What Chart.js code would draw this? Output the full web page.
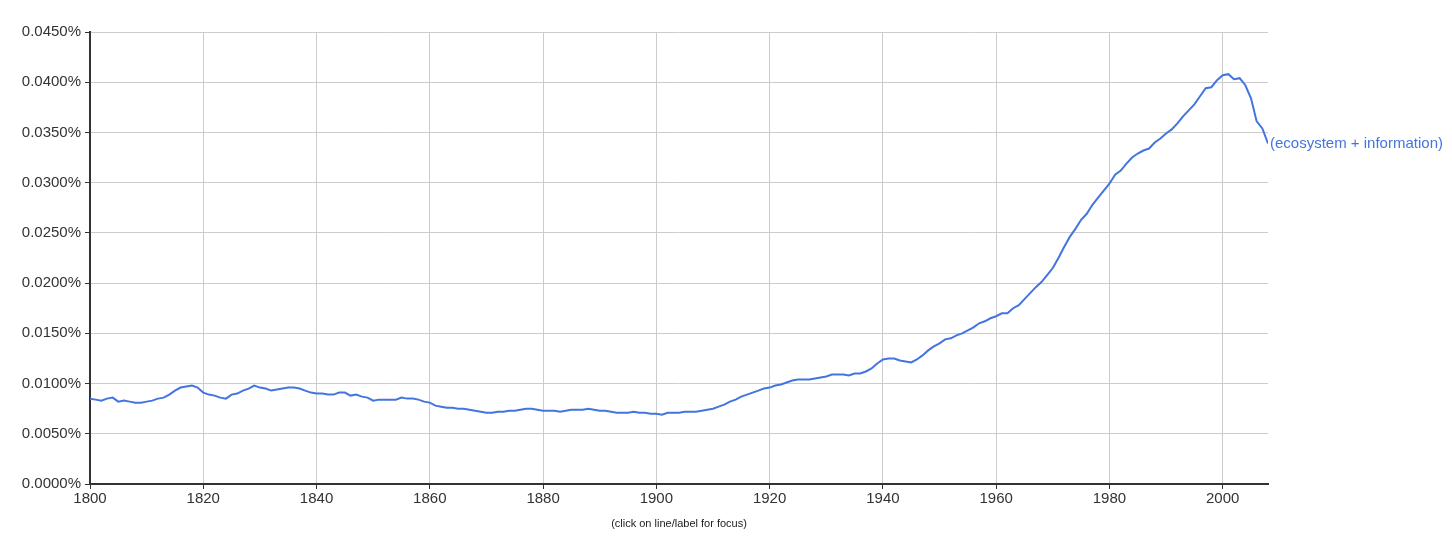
<!DOCTYPE html>
<html>
<head>
<meta charset="utf-8">
<title>Ngram: (ecosystem + information)</title>
<script src="https://cdn.jsdelivr.net/npm/chart.js@4/dist/chart.umd.min.js"></script>
<style>
  html, body { margin: 0; padding: 0; background: #fff; }
  #wrap { position: relative; width: 1452px; height: 543px; }
</style>
</head>
<body>
<div id="wrap"><canvas id="ngramChart"></canvas></div>
<script>
const seriesLabel = '(ecosystem + information)';
const caption = '(click on line/label for focus)';

const xTicks = [1800, 1820, 1840, 1860, 1880, 1900, 1920, 1940, 1960, 1980, 2000];
const yTicks = [0, 0.005, 0.01, 0.015, 0.02, 0.025, 0.03, 0.035, 0.04, 0.045];

const years = [];
for (let y = 1800; y <= 2008; y++) years.push(y);

// percent values, one per year 1800..2008
const values = [
  0.0085, 0.0084, 0.0083, 0.0085, 0.0086, 0.0082, 0.0083, 0.0082, 0.0081, 0.0081,
  0.0082, 0.0083, 0.0085, 0.0086, 0.0089, 0.0093, 0.0096, 0.0097, 0.0098, 0.0096,
  0.0091, 0.0089, 0.0088, 0.0086, 0.0085, 0.0089, 0.0090, 0.0093, 0.0095, 0.0098,
  0.0096, 0.0095, 0.0093, 0.0094, 0.0095, 0.0096, 0.0096, 0.0095, 0.0093, 0.0091,
  0.0090, 0.0090, 0.0089, 0.0089, 0.0091, 0.0091, 0.0088, 0.0089, 0.0087, 0.0086,
  0.0083, 0.0084, 0.0084, 0.0084, 0.0084, 0.0086, 0.0085, 0.0085, 0.0084, 0.0082,
  0.0081, 0.0078, 0.0077, 0.0076, 0.0076, 0.0075, 0.0075, 0.0074, 0.0073, 0.0072,
  0.0071, 0.0071, 0.0072, 0.0072, 0.0073, 0.0073, 0.0074, 0.0075, 0.0075, 0.0074,
  0.0073, 0.0073, 0.0073, 0.0072, 0.0073, 0.0074, 0.0074, 0.0074, 0.0075, 0.0074,
  0.0073, 0.0073, 0.0072, 0.0071, 0.0071, 0.0071, 0.0072, 0.0071, 0.0071, 0.0070,
  0.0070, 0.0069, 0.0071, 0.0071, 0.0071, 0.0072, 0.0072, 0.0072, 0.0073, 0.0074,
  0.0075, 0.0077, 0.0079, 0.0082, 0.0084, 0.0087, 0.0089, 0.0091, 0.0093, 0.0095,
  0.0096, 0.0098, 0.0099, 0.0101, 0.0103, 0.0104, 0.0104, 0.0104, 0.0105, 0.0106,
  0.0107, 0.0109, 0.0109, 0.0109, 0.0108, 0.0110, 0.0110, 0.0112, 0.0115, 0.0120,
  0.0124, 0.0125, 0.0125, 0.0123, 0.0122, 0.0121, 0.0124, 0.0128, 0.0133, 0.0137,
  0.0140, 0.0144, 0.0145, 0.0148, 0.0150, 0.0153, 0.0156, 0.0160, 0.0162, 0.0165,
  0.0167, 0.0170, 0.0170, 0.0175, 0.0178, 0.0184, 0.0190, 0.0196, 0.0201, 0.0208,
  0.0215, 0.0225, 0.0236, 0.0246, 0.0254, 0.0263, 0.0269, 0.0278, 0.0285, 0.0292,
  0.0299, 0.0308, 0.0312, 0.0319, 0.0325, 0.0329, 0.0332, 0.0334, 0.0340, 0.0344,
  0.0349, 0.0353, 0.0359, 0.0366, 0.0372, 0.0378, 0.0386, 0.0394, 0.0395, 0.0402,
  0.0407, 0.0408, 0.0403, 0.0404, 0.0397, 0.0384, 0.0361, 0.0354, 0.0339
];

const lineColor = '#4374e0';
const fontFamily = 'Arial, "Liberation Sans", Helvetica, sans-serif';

// series label at the end of the line + caption under the x axis
const labelPlugin = {
  id: 'ngramLabels',
  afterDatasetsDraw(chart) {
    const ctx = chart.ctx;
    const meta = chart.getDatasetMeta(0);
    const last = meta.data[meta.data.length - 1];
    ctx.save();
    ctx.font = '15px ' + fontFamily;
    ctx.fillStyle = lineColor;
    ctx.textAlign = 'left';
    ctx.textBaseline = 'middle';
    ctx.fillText(seriesLabel, last.x + 2, last.y);

    ctx.font = '11px ' + fontFamily;
    ctx.fillStyle = '#222';
    ctx.textAlign = 'center';
    const area = chart.chartArea;
    ctx.fillText(caption, (area.left + area.right) / 2, 524);
    ctx.restore();
  }
};

const ctx = document.getElementById('ngramChart').getContext('2d');
const ngramChart = new Chart(ctx, {
  type: 'line',
  data: {
    labels: years,
    datasets: [{
      label: seriesLabel,
      data: years.map((yr, i) => ({ x: yr, y: values[i] })),
      borderColor: lineColor,
      borderWidth: 2,
      pointRadius: 0,
      tension: 0,
      fill: false
    }]
  },
  options: {
    responsive: true,
    maintainAspectRatio: false,
    animation: false,
    layout: { padding: { left: 0, right: 184, top: 32, bottom: 0 } },
    plugins: {
      legend: { display: false },
      tooltip: { enabled: false }
    },
    scales: {
      x: {
        type: 'linear',
        min: 1800,
        max: 2008,
        afterBuildTicks: scale => { scale.ticks = xTicks.map(v => ({ value: v })); },
        afterFit: scale => { scale.height = 59; },
        grid: { color: '#cccccc', tickColor: '#333', tickLength: 5, lineWidth: 1 },
        border: { color: '#333', width: 2 },
        ticks: {
          color: '#333',
          font: { family: fontFamily, size: 15 },
          padding: 1,
          maxRotation: 0,
          callback: v => String(v)
        }
      },
      y: {
        min: 0,
        max: 0.045,
        afterBuildTicks: scale => { scale.ticks = yTicks.map(v => ({ value: v })); },
        afterFit: scale => { scale.width = 90; },
        grid: { color: '#cccccc', tickColor: '#333', tickLength: 5, lineWidth: 1 },
        border: { color: '#333', width: 2 },
        ticks: {
          color: '#333',
          font: { family: fontFamily, size: 15 },
          padding: 4,
          callback: v => v.toFixed(4) + '%'
        }
      }
    }
  },
  plugins: [labelPlugin]
});
</script>
</body>
</html>
